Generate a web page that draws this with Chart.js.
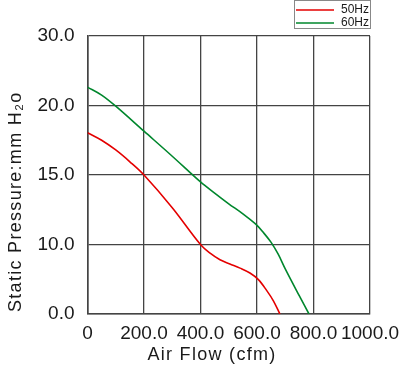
<!DOCTYPE html>
<html>
<head>
<meta charset="utf-8">
<script src="https://cdn.jsdelivr.net/npm/chart.js@4/dist/chart.umd.min.js"></script>
<style>
html,body{margin:0;padding:0;background:#fff;}
#wrap{width:400px;height:371px;}
</style>
</head>
<body>
<div id="wrap"><canvas id="c" width="400" height="371"></canvas></div>
<script>
// ---- data ----
const seriesLabels = ["50Hz", "60Hz"];
const seriesColors = ["rgb(228,0,0)", "rgb(0,135,45)"];
const flow50 = [0, 50, 100, 150, 200, 300, 400, 434, 469, 504, 540, 575, 605, 634, 658, 681];
const pres50 = [18.04, 17.5, 16.8, 15.95, 15.0, 12.65, 10.0, 8.75, 7.8, 7.2, 6.6, 5.9, 4.95, 3.4, 1.9, 0.0];
const flow60 = [0, 50, 100, 200, 300, 400, 450, 500, 550, 600, 625, 650, 675, 700, 750, 784];
const pres60 = [22.65, 21.5, 19.95, 18.15, 16.35, 14.5, 13.7, 12.93, 12.2, 11.38, 10.8, 10.15, 8.6, 6.5, 2.6, 0.0];
const yTickValues = [0, 10, 15, 20, 30];
const yTickLabels = ["0.0", "10.0", "15.0", "20.0", "30.0"];
const xTickLabels = ["0", "200.0", "400.0", "600.0", "800.0", "1000.0"];
const xTitle = "Air Flow (cfm)";
const yTitle = "Static Pressure:mm H\u2082o";

// map a pressure value onto the chart's evenly spaced (piecewise) y axis
function toPos(v) {
  for (let i = 0; i < yTickValues.length - 1; i++) {
    const a = yTickValues[i], b = yTickValues[i + 1];
    if (v <= b) return i + (v - a) / (b - a);
  }
  return yTickValues.length - 1;
}
function pts(xs, ys) { return xs.map((x, i) => ({x: x, y: toPos(ys[i])})); }

const FONT = "'Liberation Sans', Arial, sans-serif";
const gridColor = "#444";
const textColor = "#1a1a1a";

const legendPlugin = {
  id: 'boxLegend',
  afterDraw(chart) {
    const ctx = chart.ctx;
    ctx.save();
    const bx = 294.5, by = 0.5, bw = 76, bh = 28;
    ctx.strokeStyle = "#888";
    ctx.lineWidth = 1;
    ctx.strokeRect(bx, by, bw, bh);
    chart.data.datasets.forEach((ds, i) => {
      const y = 10 + i * 13;
      ctx.strokeStyle = ds.borderColor;
      ctx.lineWidth = 1.5;
      ctx.beginPath();
      ctx.moveTo(296, y); ctx.lineTo(334, y); ctx.stroke();
      ctx.fillStyle = textColor;
      ctx.font = "12px " + FONT;
      ctx.textBaseline = "middle";
      ctx.textAlign = "left";
      ctx.fillText(ds.label, 341, y);
    });
    // axis titles
    ctx.font = "18px " + FONT;
    ctx.fillStyle = textColor;
    try { ctx.letterSpacing = "1.3px"; } catch (e) {}
    ctx.textAlign = "center";
    ctx.textBaseline = "middle";
    ctx.fillText(xTitle, 212, 355);
    ctx.translate(16, 312);
    ctx.rotate(-Math.PI / 2);
    ctx.textAlign = "left";
    ctx.fillText(yTitle, 0, 0);
    ctx.restore();
  }
};

new Chart(document.getElementById('c'), {
  type: 'scatter',
  data: {
    datasets: [
      {label: seriesLabels[0], data: pts(flow50, pres50), borderColor: seriesColors[0]},
      {label: seriesLabels[1], data: pts(flow60, pres60), borderColor: seriesColors[1]}
    ].map(d => Object.assign(d, {showLine: true, pointRadius: 0, borderWidth: 1.6, tension: 0.35, fill: false}))
  },
  options: {
    responsive: false,
    animation: false,
    layout: {padding: {top: 36, right: 30, left: 0, bottom: 0}},
    plugins: {legend: {display: false}, tooltip: {enabled: false}},
    scales: {
      x: {
        type: 'linear', min: 0, max: 1000,
        afterFit: s => { s.height = 57; s.paddingRight = 0; s.paddingLeft = 0; },
        grid: {color: gridColor, lineWidth: 1.3, drawTicks: false},
        border: {color: gridColor, width: 1.6},
        ticks: {
          stepSize: 200, autoSkip: false, maxRotation: 0, padding: 8,
          color: textColor, font: {family: FONT, size: 19},
          callback: (v) => xTickLabels[Math.round(v / 200)]
        }
      },
      y: {
        type: 'linear', min: 0, max: yTickValues.length - 1,
        afterFit: s => { s.width = 87.5; s.paddingTop = 0; s.paddingBottom = 0; },
        grid: {color: gridColor, lineWidth: 1.3, drawTicks: false},
        border: {color: gridColor, width: 1.6},
        ticks: {
          stepSize: 1, autoSkip: false, padding: 13,
          color: textColor, font: {family: FONT, size: 19},
          callback: (v) => yTickLabels[Math.round(v)]
        }
      }
    }
  },
  plugins: [legendPlugin]
});
</script>
</body>
</html>
